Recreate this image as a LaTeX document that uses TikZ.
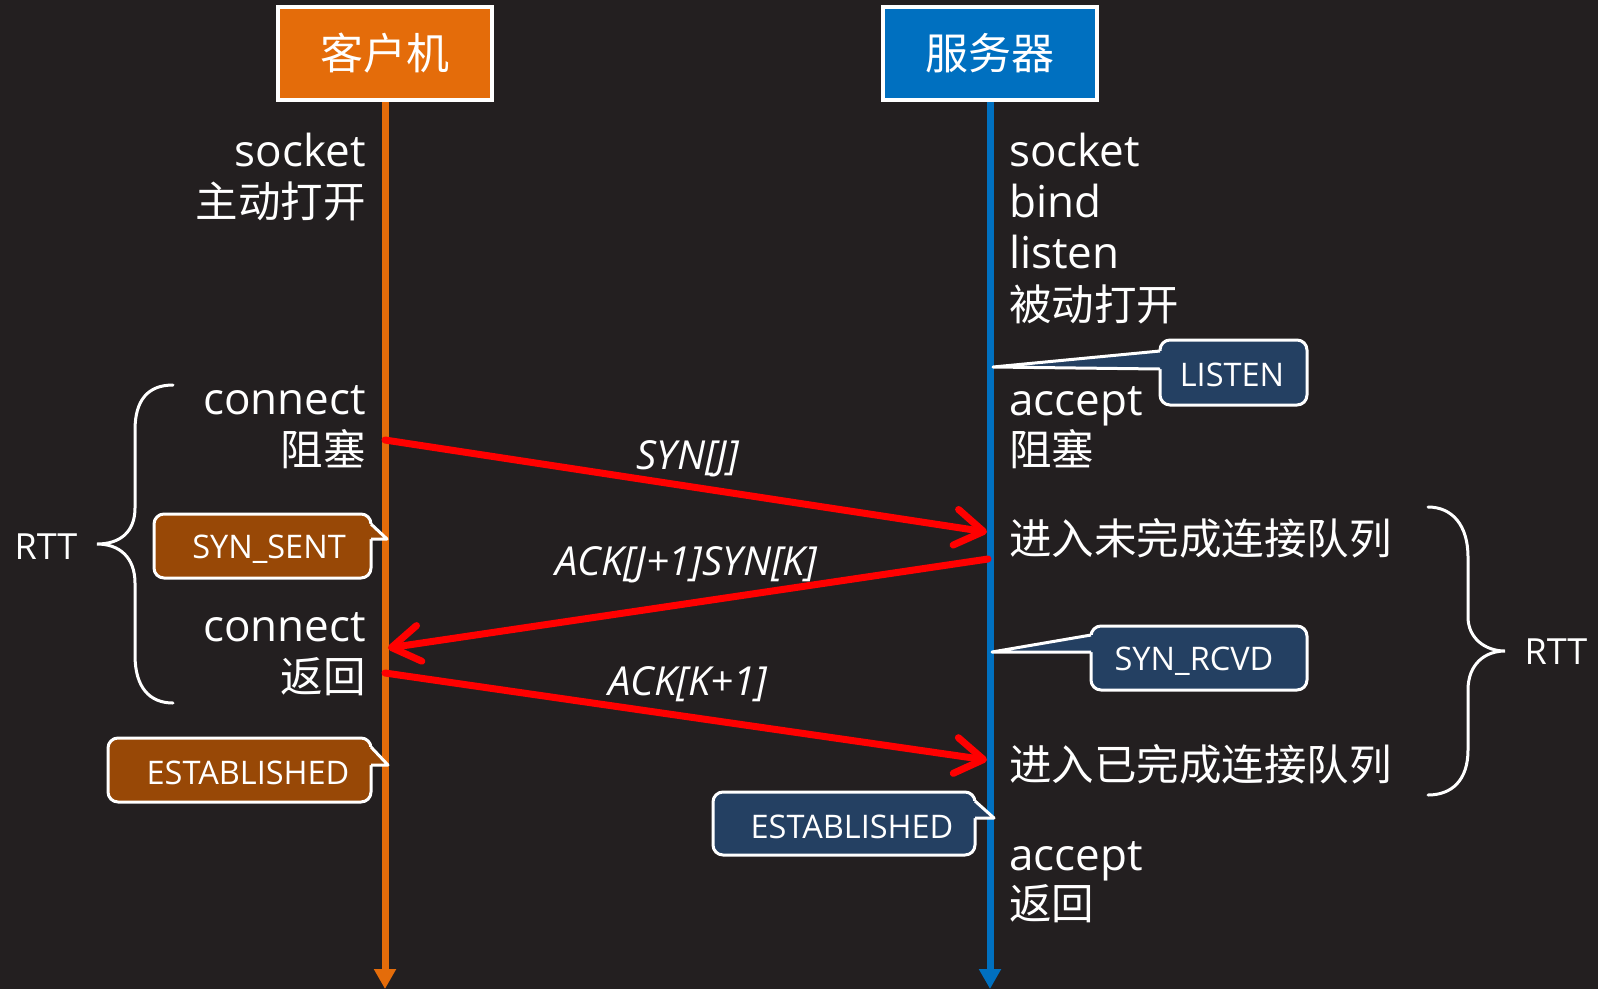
\documentclass[tikz,border=0pt]{standalone}
\usepackage{fontspec}
\setmainfont{Open Sans}
\newfontfamily\cjk{Noto Sans CJK SC}
\usetikzlibrary{arrows.meta}
\definecolor{bgc}{RGB}{35,31,32}
\definecolor{corange}{RGB}{228,108,10}
\definecolor{cblue}{RGB}{0,112,192}
\definecolor{cbrown}{RGB}{152,72,6}
\definecolor{cnavy}{RGB}{36,64,98}
\definecolor{cred}{RGB}{255,0,0}
\tikzset{
  hdr/.style={draw=white, line width=4pt, minimum width=214pt, minimum height=93pt, inner sep=0pt, text=white, font=\cjk\fontsize{43}{50}\selectfont},
  life/.style={line width=7pt, -{Triangle[length=20pt,width=21pt]}},
  ltxt/.style={text=white, inner sep=0pt, font=\fontsize{44}{50}\selectfont, text height=37pt, text depth=5pt},
  ctxt/.style={ltxt, font=\cjk\fontsize{42.5}{50}\selectfont},
  msg/.style={draw=cred, line width=7pt, line cap=round, -{Straight Barb[length=28pt,width=36pt,round]}},
  msglbl/.style={text=white, inner sep=0pt, font=\itshape\fontsize{40}{46}\selectfont},
  callbox/.style={draw=white, line width=3pt, rounded corners=10pt, inner sep=0pt},
  calltxt/.style={text=white, inner sep=0pt, font=\fontsize{32.5}{38}\selectfont},
  ptr/.style={draw=white, line width=3pt, line join=round},
  brace/.style={draw=white, line width=3pt, line cap=round},
  rtt/.style={text=white, inner sep=0pt, font=\fontsize{36}{42}\selectfont}
}
\begin{document}
\begin{tikzpicture}[x=1pt,y=-1pt]
\fill[bgc] (0,0) rectangle (1598,989);
\useasboundingbox (0,0) rectangle (1598,989);

% lifelines
\coordinate (ctop) at (385,100);
\coordinate (stop) at (990,100);
\coordinate (cend) at (385,989);
\coordinate (send) at (990,989);
\draw[life, draw=corange, fill=corange] (ctop) -- (cend);
\draw[life, draw=cblue, fill=cblue] (stop) -- (send);

% headers
\node[hdr, fill=corange] (client) at (385,53.5) {客户机};
\node[hdr, fill=cblue] (server) at (990,53.5) {服务器};

% left texts
\node[ltxt, anchor=east] (lsock) at (366,150) {socket};
\node[ctxt, anchor=east] (lopen) at (366,201) {主动打开};
\node[ltxt, anchor=east] (lconn1) at (366,398) {connect};
\node[ctxt, anchor=east] (lblock) at (366,449) {阻塞};
\node[ltxt, anchor=east] (lconn2) at (366,625) {connect};
\node[ctxt, anchor=east] (lret) at (366,676) {返回};

% right texts
\node[ltxt, anchor=west] (rsock) at (1009,150) {socket};
\node[ltxt, anchor=west] (rbind) at (1009,201) {bind};
\node[ltxt, anchor=west] (rlisten) at (1009,252) {listen};
\node[ctxt, anchor=west] (ropen) at (1009,304) {被动打开};
\node[ltxt, anchor=west] (racc1) at (1009,399) {accept};
\node[ctxt, anchor=west] (rblock) at (1009,449) {阻塞};
\node[ctxt, anchor=west] (rq1) at (1009,538) {进入未完成连接队列};
\node[ctxt, anchor=west] (rq2) at (1009,764) {进入已完成连接队列};
\node[ltxt, anchor=west] (racc2) at (1009,854) {accept};
\node[ctxt, anchor=west] (rret) at (1009,903) {返回};

% callouts
% LISTEN
\node[callbox, fill=cnavy, minimum width=147pt, minimum height=65pt] (listen) at (1233.5,372.5) {};
\node[calltxt] (listent) at (1232,375) {LISTEN};
\coordinate (listentip) at (993,367);
\fill[cnavy] (listentip) -- (1160,351) -- (1166,351) -- (1166,369) -- (1160,369) -- cycle;
\draw[ptr] (1160,351) -- (listentip) -- (1160,369);
% SYN_RCVD
\node[callbox, fill=cnavy, minimum width=216pt, minimum height=64pt] (rcvd) at (1199,658) {};
\node[calltxt] (rcvdt) at (1194,661) {SYN\_RCVD};
\coordinate (rcvdtip) at (992,652);
\fill[cnavy] (rcvdtip) -- (1091,635) -- (1097,635) -- (1097,652) -- (1091,652) -- cycle;
\draw[ptr] (1091,635) -- (rcvdtip) -- (1091,652);
% SYN_SENT
\node[callbox, fill=cbrown, minimum width=217pt, minimum height=64pt] (sent) at (262.5,546) {};
\node[calltxt] (sentt) at (269,549) {SYN\_SENT};
\coordinate (senttip) at (387,539);
\fill[cbrown] (senttip) -- (371,524) -- (365,524) -- (365,539) -- (371,539) -- cycle;
\draw[ptr] (371,524) -- (senttip) -- (371,539);
% ESTABLISHED client
\node[callbox, fill=cbrown, minimum width=263pt, minimum height=64pt] (estc) at (239.5,770) {};
\node[calltxt] (estct) at (248,772.5) {ESTABLISHED};
\coordinate (estctip) at (388,765);
\fill[cbrown] (estctip) -- (371,747) -- (365,747) -- (365,765) -- (371,765) -- cycle;
\draw[ptr] (371,747) -- (estctip) -- (371,765);
% ESTABLISHED server
\node[callbox, fill=cnavy, minimum width=262pt, minimum height=63pt] (ests) at (844,823.5) {};
\node[calltxt] (estst) at (852,826.5) {ESTABLISHED};
\coordinate (eststip) at (994,818);
\fill[cnavy] (eststip) -- (975,801) -- (969,801) -- (969,818) -- (975,818) -- cycle;
\draw[ptr] (975,801) -- (eststip) -- (975,818);

% messages
\coordinate (c1) at (385,440);
\coordinate (s1) at (987,532);
\coordinate (s2) at (988,559);
\coordinate (c2) at (388,648);
\coordinate (c3) at (385,673);
\coordinate (s3) at (987,760);
\draw[msg] (c1) -- (s1);
\draw[msg] (s2) -- (c2);
\draw[msg] (c3) -- (s3);
\node[msglbl] (l1) at (688,459) {SYN[J]};
\node[msglbl] (l2) at (686,565) {ACK[J+1]SYN[K]};
\node[msglbl] (l3) at (688,684) {ACK[K+1]};

% braces
\draw[brace] (173,385) .. controls (148,385) and (135,400) .. (135,430) -- (135,508)
  .. controls (135,532) and (120,544) .. (97,544)
  .. controls (120,544) and (135,558) .. (135,583) -- (135,655)
  .. controls (135,688) and (150,703) .. (173,703);
\node[rtt] (rttl) at (46,547) {RTT};
\draw[brace] (1428,507) .. controls (1452,507) and (1468,525) .. (1468,557) -- (1468,617)
  .. controls (1468,638) and (1485,651) .. (1505,651)
  .. controls (1485,651) and (1468,664) .. (1468,690) -- (1468,750)
  .. controls (1468,780) and (1452,795) .. (1428,795);
\node[rtt] (rttr) at (1556,652) {RTT};
\end{tikzpicture}
\end{document}
